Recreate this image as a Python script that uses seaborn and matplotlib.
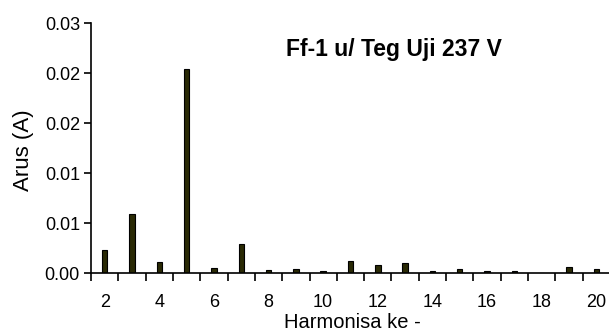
import matplotlib
matplotlib.use("Agg")
import matplotlib.pyplot as plt
import seaborn as sns
import pandas as pd
import numpy as np

harmonics = [2, 3, 4, 5, 6, 7, 8, 9, 10, 11, 12, 13, 14, 15, 16, 17, 18, 19, 20]
current = [0.0023, 0.0059, 0.0011, 0.0204, 0.0005, 0.0029, 0.0003, 0.0004, 0.00025,
           0.0012, 0.0008, 0.0010, 0.00025, 0.0004, 0.00025, 0.00025, 0.0, 0.00063, 0.0004]
ytick_values = [0.0, 0.005, 0.01, 0.015, 0.02, 0.025]
ytick_labels = ["0.00", "0.01", "0.01", "0.02", "0.02", "0.03"]
xtick_values = [2, 4, 6, 8, 10, 12, 14, 16, 18, 20]
title = "Ff-1 u/ Teg Uji 237 V"
xlabel = "Harmonisa ke -"
ylabel = "Arus (A)"

sns.set_style("white")
plt.rcParams['font.family'] = ['Liberation Sans', 'DejaVu Sans']
plt.rcParams['text.color'] = 'black'
plt.rcParams['xtick.color'] = 'black'
plt.rcParams['ytick.color'] = 'black'

df = pd.DataFrame({"h": harmonics, "i": current})

fig = plt.figure(figsize=(6.09, 3.32), dpi=100)
ax = fig.add_axes([91/609, 1-273/332, 519/609, 249.7/332])

sns.barplot(data=df, x="h", y="i", native_scale=True, width=0.2,
            color="#2a2a05", edgecolor="black", linewidth=0.8,
            saturation=1, ax=ax, errorbar=None)

ax.set_xlim(1.5, 20.5)
ax.set_ylim(0, 0.025)
ax.set_yticks(ytick_values)
ax.set_yticklabels(ytick_labels)
ax.set_xticks(xtick_values)
ax.set_xticklabels([str(v) for v in xtick_values])
ax.set_xticks(np.arange(1.5, 20.6, 1.0), minor=True)
ax.tick_params(axis='x', which='major', length=0, pad=15, labelsize=13, labelcolor='black')
ax.tick_params(axis='x', which='minor', length=6, width=1.2, color='black', direction='out', bottom=True)
ax.tick_params(axis='y', which='major', length=5, width=1.2, color='black', direction='out',
               left=True, labelsize=13, pad=3, labelcolor='black')

for s in ["top", "right"]:
    ax.spines[s].set_visible(False)
for s in ["left", "bottom"]:
    ax.spines[s].set_color("black")
    ax.spines[s].set_linewidth(1.2)

ax.set_xlabel("")
ax.set_ylabel("")
ax.grid(False)

fig.text(352/609, 1-322/332, xlabel, ha="center", va="center", fontsize=14.5, color='black')
fig.text(24/609, 1-150/332, ylabel, ha="center", va="center", rotation=90, fontsize=16, color='black')
ax.text(0.584, 0.897, title, transform=ax.transAxes, ha="center", va="center",
        fontsize=16.5, fontweight="bold", color='black')

fig.savefig("out.png", dpi=100)
